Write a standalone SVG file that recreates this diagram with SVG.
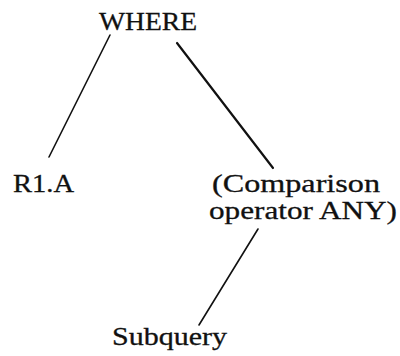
<svg xmlns="http://www.w3.org/2000/svg" width="400" height="356" viewBox="0 0 400 356">
  <style>
    .lbl { font-family: "Liberation Serif", "DejaVu Serif", serif; font-size: 25px; fill: #111; stroke: #111; stroke-width: 0.3px; }
    .edge { stroke: #111; stroke-linecap: round; fill: none; }
  </style>
  <rect width="400" height="356" fill="#fff"/>
  <g id="connectors">
    <line class="edge" x1="110" y1="35" x2="49" y2="157" stroke-width="1.6"/>
    <line class="edge" x1="177" y1="43" x2="273" y2="168" stroke-width="2.2"/>
    <line class="edge" x1="258" y1="229" x2="199" y2="325" stroke-width="1.6"/>
  </g>
  <g id="where">
    <text class="lbl" x="99" y="29.5" textLength="98" lengthAdjust="spacingAndGlyphs">WHERE</text>
  </g>
  <g id="r1a">
    <text class="lbl" x="13" y="191.5" textLength="61" lengthAdjust="spacingAndGlyphs">R1.A</text>
  </g>
  <g id="comparison">
    <text class="lbl" x="212" y="191.5" textLength="168" lengthAdjust="spacingAndGlyphs">(Comparison</text>
    <text class="lbl" x="209" y="219" textLength="188" lengthAdjust="spacingAndGlyphs">operator ANY)</text>
  </g>
  <g id="subquery">
    <text class="lbl" x="112" y="345" textLength="115" lengthAdjust="spacingAndGlyphs">Subquery</text>
  </g>
</svg>
